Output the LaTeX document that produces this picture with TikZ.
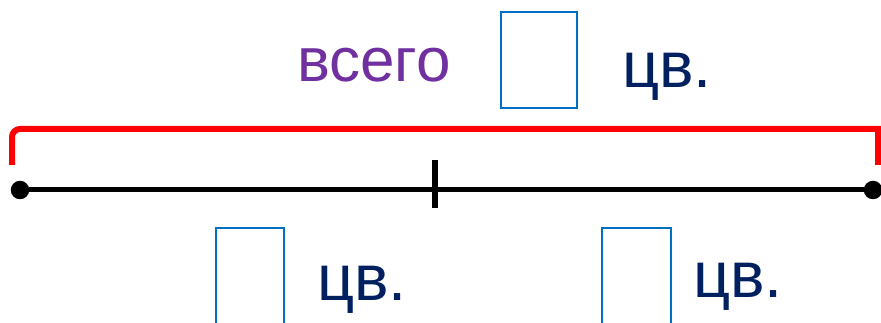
\documentclass[tikz,border=0pt]{standalone}
\usepackage{fontspec}
\setmainfont{Liberation Sans}
\definecolor{vpurple}{RGB}{112,48,160}
\definecolor{vnavy}{RGB}{0,32,96}
\definecolor{vblue}{RGB}{0,112,192}
\definecolor{vred}{RGB}{255,0,0}
\tikzset{
  ansbox/.style={draw=vblue, line width=2.4pt, minimum width=68pt, minimum height=96pt, inner sep=0pt, anchor=north west},
  unit/.style={text=vnavy, font=\fontsize{65}{70}\selectfont, inner sep=0pt, anchor=base west},
  dot/.style={circle, fill=black, minimum size=18.5pt, inner sep=0pt},
}
\begin{document}
\begin{tikzpicture}[x=1pt,y=-1pt]
\useasboundingbox (0,0) rectangle (881,323);
\clip (0,0) rectangle (881,323);
% top label
\node[text=vpurple, font=\fontsize{62}{70}\selectfont, inner sep=0pt, anchor=base west] (vsego) at (297,82) {всего};
\node[ansbox, minimum width=76pt] (btop) at (500,11) {};
\node[unit] (ctop) at (622,88) {цв.};
% brace
\coordinate (bl) at (12,165);
\coordinate (br) at (878,165);
\draw[vred, line width=6pt] (bl) [rounded corners=8pt] |- (200,129) [sharp corners] -- (878,129) -- (br);
% segment
\node[dot] (L) at (20,190) {};
\node[dot] (R) at (873,190) {};
\draw[black, line width=5pt] (L) -- (R);
\coordinate (t1) at (435,160);
\coordinate (t2) at (435,208);
\draw[black, line width=5.5pt] (t1) -- (t2);
% bottom labels
\node[ansbox] (b1) at (215,227) {};
\node[unit] (c1) at (317,300) {цв.};
\node[ansbox, minimum width=69pt] (b2) at (601,227) {};
\node[unit] (c2) at (693,297) {цв.};
\end{tikzpicture}
\end{document}
